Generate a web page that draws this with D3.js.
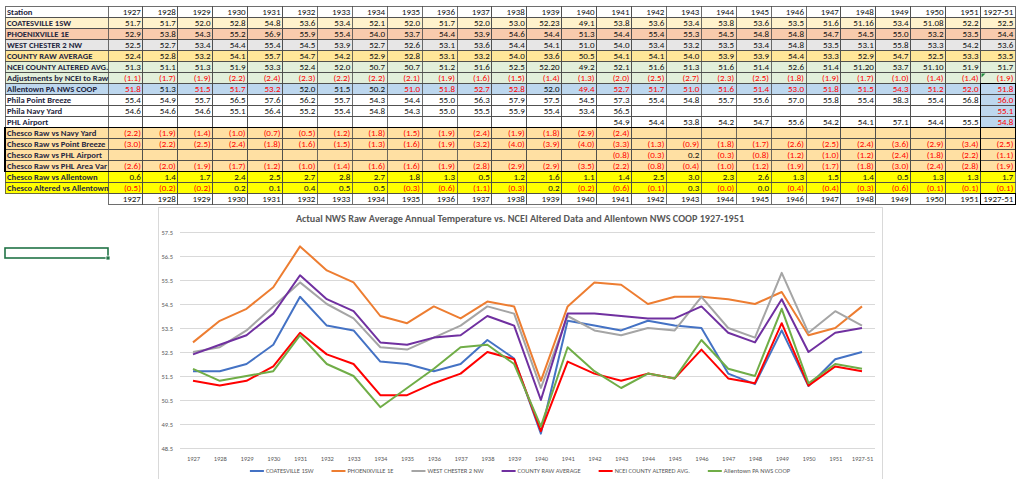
<!DOCTYPE html>
<html>
<head>
<meta charset="utf-8">
<script src="https://cdn.jsdelivr.net/npm/d3@7"></script>
<style>
  body { margin: 0; background: #fff; }
  svg { display: block; }
  text { font-family: Carlito, "Liberation Sans Narrow", "DejaVu Sans Condensed", "Liberation Sans", sans-serif; }
</style>
</head>
<body>
<div id="graph"></div>
<script>
// ---- data ----
const years = ["1927","1928","1929","1930","1931","1932","1933","1934","1935","1936","1937","1938","1939",
  "1940","1941","1942","1943","1944","1945","1946","1947","1948","1949","1950","1951","1927-51"];

const coatesville = ["51.7","51.7","52.0","52.8","54.8","53.6","53.4","52.1","52.0","51.7","52.0","53.0","52.23",
  "49.1","53.8","53.6","53.4","53.8","53.6","53.5","51.6","51.16","53.4","51.08","52.2","52.5"];
const phoenixville = ["52.9","53.8","54.3","55.2","56.9","55.9","55.4","54.0","53.7","54.4","53.9","54.6","54.4",
  "51.3","54.4","55.4","55.3","54.5","54.8","54.8","54.7","54.5","55.0","53.2","53.5","54.4"];
const westChester = ["52.5","52.7","53.4","54.4","55.4","54.5","53.9","52.7","52.6","53.1","53.6","54.4","54.1",
  "51.0","54.0","53.4","53.2","53.5","53.4","54.8","53.5","53.1","55.8","53.3","54.2","53.6"];
const countyRaw = ["52.4","52.8","53.2","54.1","55.7","54.7","54.2","52.9","52.8","53.1","53.2","54.0","53.6",
  "50.5","54.1","54.1","54.0","53.9","53.9","54.4","53.3","52.9","54.7","52.5","53.3","53.5"];
const nceiAltered = ["51.3","51.1","51.3","51.9","53.3","52.4","52.0","50.7","50.7","51.2","51.6","52.5","52.20",
  "49.2","52.1","51.6","51.3","51.6","51.4","52.6","51.4","51.20","53.7","51.10","51.9","51.7"];
const adjustments = ["(1.1)","(1.7)","(1.9)","(2.2)","(2.4)","(2.3)","(2.2)","(2.2)","(2.1)","(1.9)","(1.6)","(1.5)","(1.4)",
  "(1.3)","(2.0)","(2.5)","(2.7)","(2.3)","(2.5)","(1.8)","(1.9)","(1.7)","(1.0)","(1.4)","(1.4)","(1.9)"];
const allentown = ["51.8","51.3","51.5","51.7","53.2","52.0","51.5","50.2","51.0","51.8","52.7","52.8","52.0",
  "49.4","52.7","51.7","51.0","51.6","51.4","53.0","51.8","51.5","54.3","51.2","52.0","51.8"];
// which Allentown cells are typed in red on the sheet
const allentownRed = ["1927","1929","1930","1931","1935","1936","1937","1938","1940","1941","1942","1943","1944",
  "1945","1946","1947","1948","1949","1950","1951","1927-51"];
const pointBreeze = ["55.4","54.9","55.7","56.5","57.6","56.2","55.7","54.3","54.4","55.0","56.3","57.9","57.5",
  "54.5","57.3","55.4","54.8","55.7","55.6","57.0","55.8","55.4","58.3","55.4","56.8","56.0"];
const navyYard = ["54.6","54.6","54.6","55.1","56.4","55.2","55.4","54.8","54.3","55.0","55.5","55.9","55.4",
  "53.4","56.5","","","","","","","","","","","55.1"];
const phlAirport = ["","","","","","","","","","","","","",
  "","54.9","54.4","53.8","54.2","54.7","55.6","54.2","54.1","57.1","54.4","55.5","54.8"];
const vsNavy = ["(2.2)","(1.9)","(1.4)","(1.0)","(0.7)","(0.5)","(1.2)","(1.8)","(1.5)","(1.9)","(2.4)","(1.9)","(1.8)",
  "(2.9)","(2.4)","","","","","","","","","","",""];
const vsPointBreeze = ["(3.0)","(2.2)","(2.5)","(2.4)","(1.8)","(1.6)","(1.5)","(1.3)","(1.6)","(1.9)","(3.2)","(4.0)","(3.9)",
  "(4.0)","(3.3)","(1.3)","(0.9)","(1.8)","(1.7)","(2.6)","(2.5)","(2.4)","(3.6)","(2.9)","(3.4)","(2.5)"];
const vsAirport = ["","","","","","","","","","","","","",
  "","(0.8)","(0.3)","0.2","(0.3)","(0.8)","(1.2)","(1.0)","(1.2)","(2.4)","(1.8)","(2.2)","(1.1)"];
const vsAreaVar = ["(2.6)","(2.0)","(1.9)","(1.7)","(1.2)","(1.0)","(1.4)","(1.6)","(1.6)","(1.9)","(2.8)","(2.9)","(2.9)",
  "(3.5)","(2.2)","(0.8)","(0.4)","(1.0)","(1.2)","(1.9)","(1.7)","(1.8)","(3.0)","(2.4)","(2.8)","(1.9)"];
const rawVsAllentown = ["0.6","1.4","1.7","2.4","2.5","2.7","2.8","2.7","1.8","1.3","0.5","1.2","1.6",
  "1.1","1.4","2.5","3.0","2.3","2.6","1.3","1.5","1.4","0.5","1.3","1.3","1.7"];
const alteredVsAllentown = ["(0.5)","(0.2)","(0.2)","0.2","0.1","0.4","0.5","0.5","(0.3)","(0.6)","(1.1)","(0.3)","0.2",
  "(0.2)","(0.6)","(0.1)","0.3","(0.0)","0.0","(0.4)","(0.4)","(0.3)","(0.6)","(0.1)","(0.1)","(0.1)"];

const chartTitle = "Actual NWS Raw Average Annual Temperature vs. NCEI Altered Data and Allentown NWS COOP 1927-1951";
const yTicks = ["48.5","49.5","50.5","51.5","52.5","53.5","54.5","55.5","56.5","57.5"];

// ---- layout ----
const svg = d3.select("#graph").append("svg").attr("width", 1024).attr("height", 479);

const labelX0 = 5, labelX1 = 108, colW = 34.9, rowH = 11, tableTop = 6.5;
const colX = i => labelX1 + i * colW;

const rows = [
  { label: "COATESVILLE 1SW", values: coatesville, fill: "#fff2cc" },
  { label: "PHOENIXVILLE 1E", values: phoenixville, fill: "#f8cbad" },
  { label: "WEST CHESTER 2 NW", values: westChester, fill: "#e7e6e6" },
  { label: "COUNTY RAW AVERAGE", values: countyRaw, fill: "#ffe699" },
  { label: "NCEI COUNTY ALTERED AVG.", values: nceiAltered, fill: "#e2efda" },
  { label: "Adjustments by NCEI to Raw", values: adjustments, fill: "#e2efda" },
  { label: "Allentown PA NWS COOP", values: allentown, fill: "#bdd7ee", avgFill: "#bdd7ee" },
  { label: "Phila Point Breeze", values: pointBreeze, fill: "#ffffff", avgFill: "#bdd7ee", avgRed: true },
  { label: "Phila Navy Yard", values: navyYard, fill: "#ffffff", avgFill: "#bdd7ee", avgRed: true },
  { label: "PHL Airport", values: phlAirport, fill: "#ffffff", avgFill: "#bdd7ee", avgRed: true },
  { label: "Chesco Raw vs Navy Yard", values: vsNavy, fill: "#ffe0a3" },
  { label: "Chesco Raw vs Point Breeze", values: vsPointBreeze, fill: "#ffe0a3" },
  { label: "Chesco Raw vs PHL Airport", values: vsAirport, fill: "#ffe0a3" },
  { label: "Chesco Raw vs PHL Area Var", values: vsAreaVar, fill: "#ffe0a3" },
  { label: "Chesco Raw vs Allentown", values: rawVsAllentown, fill: "#ffff00" },
  { label: "Chesco Altered vs Allentown", values: alteredVsAllentown, fill: "#ffff00" }
];

const table = svg.append("g").attr("shape-rendering", "crispEdges");
const tableText = svg.append("g");
const fs = 9, labelFs = 8.6;

function cell(x, y, w, fill) {
  table.append("rect").attr("x", x).attr("y", y).attr("width", w).attr("height", rowH)
    .attr("fill", fill).attr("stroke", "#4a4a4a").attr("stroke-width", 0.8);
}

// header row
cell(labelX0, tableTop, labelX1 - labelX0, "#fff");
tableText.append("text").attr("x", labelX0 + 2).attr("y", tableTop + 8.5).attr("font-size", labelFs)
  .attr("font-weight", "bold").attr("fill", "#1f2640").text("Station");
years.forEach((yr, i) => {
  cell(colX(i), tableTop, colW, "#fff");
  tableText.append("text").attr("x", colX(i) + colW - 2).attr("y", tableTop + 8.5).attr("text-anchor", "end")
    .attr("font-size", fs).attr("fill", "#111").text(yr);
});

rows.forEach((r, ri) => {
  const y = tableTop + (ri + 1) * rowH;
  cell(labelX0, y, labelX1 - labelX0, r.fill);
  tableText.append("text").attr("x", labelX0 + 2).attr("y", y + 8.5).attr("font-size", labelFs)
    .attr("font-weight", "bold").attr("fill", "#1f2640").text(r.label);
  r.values.forEach((v, i) => {
    const isAvg = i === years.length - 1;
    cell(colX(i), y, colW, isAvg && r.avgFill ? r.avgFill : r.fill);
    let red = v.startsWith("(");
    if (r.values === allentown) red = allentownRed.includes(years[i]);
    if (isAvg && r.avgRed) red = true;
    tableText.append("text").attr("x", colX(i) + colW - 2).attr("y", y + 8.5).attr("text-anchor", "end")
      .attr("font-size", fs).attr("fill", red ? "#ff0000" : "#111").text(v);
  });
});

// bottom year row
const yearRowY = tableTop + (rows.length + 1) * rowH;
years.forEach((yr, i) => {
  cell(colX(i), yearRowY, colW, "#fff");
  tableText.append("text").attr("x", colX(i) + colW - 2).attr("y", yearRowY + 8.5).attr("text-anchor", "end")
    .attr("font-size", fs).attr("fill", "#111").text(yr);
});

// heavier outlines around the Chesco comparison block and the average column
const lastCol = colX(years.length - 1);
table.append("rect").attr("x", labelX0).attr("y", tableTop + 11 * rowH)
  .attr("width", lastCol - labelX0).attr("height", 4 * rowH)
  .attr("fill", "none").attr("stroke", "#000").attr("stroke-width", 1.8);
table.append("rect").attr("x", lastCol).attr("y", tableTop + 11 * rowH)
  .attr("width", colW).attr("height", 4 * rowH)
  .attr("fill", "none").attr("stroke", "#000").attr("stroke-width", 1.8);
table.append("rect").attr("x", lastCol).attr("y", tableTop + 7 * rowH)
  .attr("width", colW).attr("height", 4 * rowH)
  .attr("fill", "none").attr("stroke", "#000").attr("stroke-width", 1.4);
table.append("rect").attr("x", lastCol).attr("y", yearRowY)
  .attr("width", colW).attr("height", rowH)
  .attr("fill", "none").attr("stroke", "#000").attr("stroke-width", 1.8);
// excel error marker
svg.append("path").attr("d", `M${lastCol + 1},${tableTop + 6 * rowH + 1}l4,0l-4,4z`).attr("fill", "#1e8a3c");

// selected cell
svg.append("rect").attr("x", 5).attr("y", 248).attr("width", 103).attr("height", 10)
  .attr("fill", "none").attr("stroke", "#217346").attr("stroke-width", 1.6);
svg.append("rect").attr("x", 106).attr("y", 256).attr("width", 4).attr("height", 4).attr("fill", "#217346")
  .attr("stroke", "#fff").attr("stroke-width", 0.8);

// ---- chart ----
const chart = svg.append("g");
chart.append("rect").attr("x", 158.5).attr("y", 207.5).attr("width", 724).attr("height", 290)
  .attr("fill", "#fff").attr("stroke", "#d9d9d9");

const x = d3.scalePoint().domain(years).range([193, 862]);
const y = d3.scaleLinear().domain([48.5, 57.5]).range([448, 232]);

chart.append("text").attr("x", 520).attr("y", 221.5).attr("text-anchor", "middle")
  .attr("font-size", 10.2).attr("font-weight", "bold").attr("fill", "#595959").text(chartTitle);

const gy = chart.append("g").attr("transform", "translate(180,0)")
  .call(d3.axisLeft(y).tickValues(yTicks.map(Number)).tickSize(-695).tickFormat(d3.format(".1f")));
gy.select(".domain").remove();
gy.selectAll("line").attr("stroke", "#d9d9d9").attr("shape-rendering", "crispEdges");
gy.selectAll("text").attr("x", -7).attr("fill", "#595959").attr("font-size", 6.5);

const gx = chart.append("g").attr("transform", "translate(0,448)")
  .call(d3.axisBottom(x).tickSize(0).tickPadding(8));
gx.select(".domain").remove();
gx.selectAll("text").attr("fill", "#595959").attr("font-size", 6.5);

const series = [
  { name: "COATESVILLE 1SW", values: coatesville, color: "#4472c4" },
  { name: "PHOENIXVILLE 1E", values: phoenixville, color: "#ed7d31" },
  { name: "WEST CHESTER 2 NW", values: westChester, color: "#a5a5a5" },
  { name: "COUNTY RAW AVERAGE", values: countyRaw, color: "#7030a0" },
  { name: "NCEI COUNTY ALTERED AVG.", values: nceiAltered, color: "#ff0000" },
  { name: "Allentown PA NWS COOP", values: allentown, color: "#70ad47" }
];

const line = d3.line().x((d, i) => x(years[i])).y(d => y(+d));
series.forEach(s => {
  chart.append("path").datum(s.values).attr("d", line)
    .attr("fill", "none").attr("stroke", s.color).attr("stroke-width", 2).attr("stroke-linejoin", "round");
});

// legend, centred under the plot
const legend = chart.append("g");
let lx = 0;
series.forEach(s => {
  const g = legend.append("g").attr("transform", `translate(${lx},0)`);
  g.append("line").attr("x1", 0).attr("x2", 14).attr("stroke", s.color).attr("stroke-width", 2);
  const t = g.append("text").attr("x", 16).attr("y", 2.3).attr("font-size", 6.5).attr("fill", "#595959").text(s.name);
  lx += 16 + t.node().getComputedTextLength() + 18;
});
legend.attr("transform", `translate(${520 - (lx - 18) / 2},471)`);
</script>
</body>
</html>
